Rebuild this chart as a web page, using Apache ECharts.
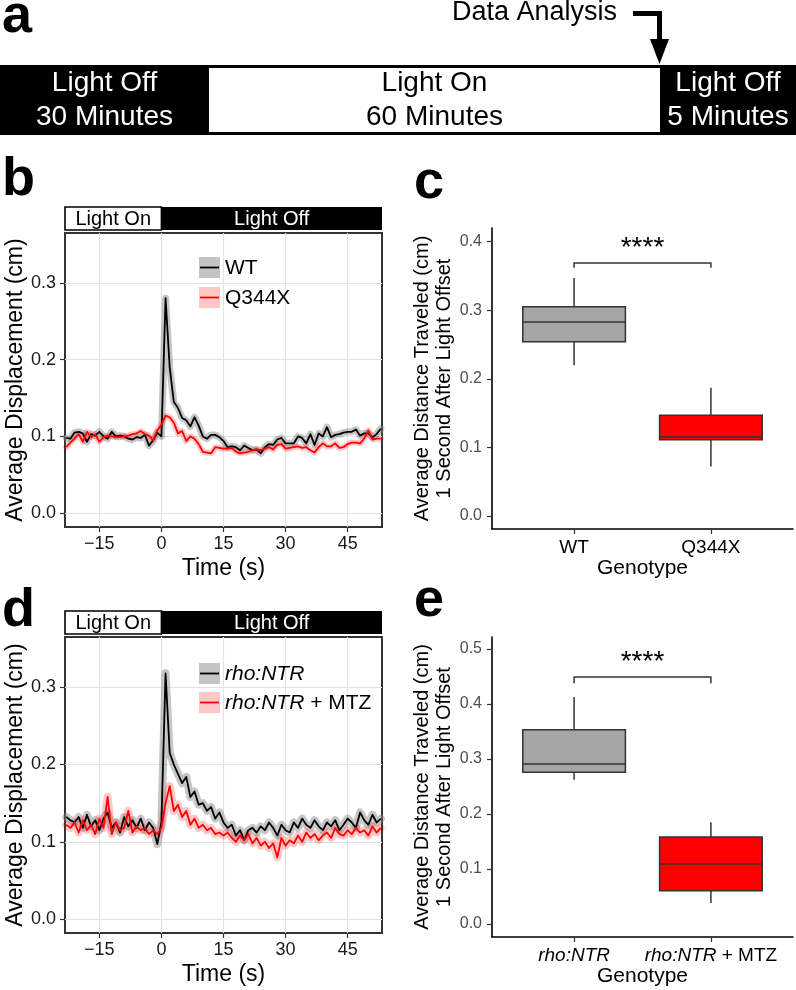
<!DOCTYPE html>
<html>
<head>
<meta charset="utf-8">
<title>Light offset startle response</title>
<script src="https://cdn.jsdelivr.net/npm/echarts@6/dist/echarts.min.js"></script>
<style>
  html, body { margin: 0; padding: 0; background: #fff; }
  #main { width: 796px; height: 990px; }
</style>
</head>
<body>
<div id="main"></div>
<script>
// ---- data ----
const timeSec = [-23, -22, -21, -20, -19, -18, -17, -16, -15, -14, -13, -12, -11, -10, -9, -8, -7, -6, -5, -4,
  -3, -2, -1, 0, 1, 2, 3, 4, 5, 6, 7, 8, 9, 10, 11, 12, 13, 14, 15, 16, 17, 18, 19, 20, 21, 22, 23, 24, 25, 26,
  27, 28, 29, 30, 31, 32, 33, 34, 35, 36, 37, 38, 39, 40, 41, 42, 43, 44, 45, 46, 47, 48, 49, 50, 51, 52, 53]

// panel b
const wtDisp = [0.098, 0.097, 0.105, 0.106, 0.104, 0.093, 0.103, 0.101, 0.106, 0.100,
  0.097, 0.106, 0.100, 0.101, 0.100, 0.097, 0.096, 0.099, 0.098, 0.102,
  0.088, 0.095, 0.105, 0.100, 0.280, 0.190, 0.145, 0.137, 0.124, 0.121,
  0.113, 0.125, 0.114, 0.100, 0.097, 0.102, 0.102, 0.099, 0.094, 0.086,
  0.087, 0.086, 0.082, 0.088, 0.085, 0.082, 0.083, 0.078, 0.086, 0.090,
  0.089, 0.096, 0.098, 0.091, 0.091, 0.091, 0.100, 0.098, 0.091, 0.103,
  0.089, 0.104, 0.100, 0.112, 0.099, 0.102, 0.103, 0.105, 0.106, 0.106,
  0.109, 0.101, 0.104, 0.104, 0.099, 0.103, 0.110]
const q344xDisp = [0.086, 0.092, 0.097, 0.103, 0.093, 0.106, 0.099, 0.103, 0.093, 0.099,
  0.101, 0.100, 0.099, 0.099, 0.100, 0.101, 0.103, 0.104, 0.107, 0.103,
  0.101, 0.095, 0.108, 0.115, 0.127, 0.125, 0.118, 0.104, 0.107, 0.094,
  0.100, 0.097, 0.090, 0.080, 0.079, 0.078, 0.086, 0.085, 0.084, 0.084,
  0.085, 0.080, 0.078, 0.079, 0.080, 0.082, 0.083, 0.082, 0.084, 0.086,
  0.083, 0.089, 0.090, 0.084, 0.085, 0.086, 0.087, 0.085, 0.086, 0.082,
  0.079, 0.086, 0.091, 0.087, 0.087, 0.091, 0.085, 0.086, 0.090, 0.092,
  0.092, 0.091, 0.097, 0.108, 0.096, 0.097, 0.097]

// panel d
const rhoDisp = [0.132, 0.128, 0.125, 0.132, 0.118, 0.135, 0.120, 0.128, 0.115, 0.130,
  0.138, 0.118, 0.125, 0.112, 0.132, 0.120, 0.128, 0.118, 0.130, 0.115,
  0.125, 0.118, 0.097, 0.125, 0.318, 0.215, 0.200, 0.188, 0.176, 0.184,
  0.158, 0.165, 0.148, 0.150, 0.140, 0.145, 0.130, 0.138, 0.125, 0.118,
  0.122, 0.108, 0.115, 0.102, 0.115, 0.118, 0.112, 0.120, 0.115, 0.125,
  0.118, 0.108, 0.122, 0.115, 0.112, 0.125, 0.118, 0.130, 0.122, 0.118,
  0.128, 0.120, 0.115, 0.125, 0.120, 0.128, 0.115, 0.122, 0.130, 0.125,
  0.118, 0.138, 0.128, 0.122, 0.135, 0.125, 0.130]
const rhoMtzDisp = [0.122, 0.118, 0.125, 0.112, 0.128, 0.115, 0.122, 0.110, 0.130, 0.118,
  0.158, 0.110, 0.125, 0.115, 0.118, 0.140, 0.112, 0.120, 0.115, 0.118,
  0.110, 0.115, 0.110, 0.118, 0.150, 0.172, 0.140, 0.148, 0.132, 0.140,
  0.122, 0.130, 0.118, 0.122, 0.115, 0.118, 0.110, 0.112, 0.108, 0.112,
  0.105, 0.100, 0.108, 0.102, 0.110, 0.098, 0.105, 0.095, 0.100, 0.092,
  0.098, 0.080, 0.105, 0.095, 0.102, 0.098, 0.108, 0.100, 0.112, 0.105,
  0.110, 0.102, 0.108, 0.112, 0.105, 0.118, 0.110, 0.108, 0.115, 0.110,
  0.118, 0.112, 0.115, 0.108, 0.120, 0.112, 0.118]

const timeTicks = [-15, 0, 15, 30, 45]
const dispTicks = [0, 0.1, 0.2, 0.3]
const lightChange = 0

// panels c and e: [lower whisker, Q1, median, Q3, upper whisker]
const genotypesC = ['WT', 'Q344X']
const boxStatsC = [[0.220, 0.254, 0.283, 0.305, 0.347], [0.072, 0.111, 0.115, 0.147, 0.187]]
const sigC = [0.362, 0.369]
const distTicksC = [0, 0.1, 0.2, 0.3, 0.4]

const genotypesE = ['{i|rho:NTR}', '{i|rho:NTR}{n| + MTZ}']
const boxStatsE = [[0.262, 0.276, 0.291, 0.353, 0.413], [0.038, 0.060, 0.109, 0.158, 0.185]]
const sigE = [0.438, 0.449]
const distTicksE = [0, 0.1, 0.2, 0.3, 0.4, 0.5]

const phaseNames = ['Light Off', 'Light On', 'Light Off']
const phaseDurations = ['30 Minutes', '60 Minutes', '5 Minutes']

// ---- layout / style ----
const FONT = "'Liberation Sans', Arial, sans-serif"
const GRID_B = { left: 65, top: 233, width: 317, height: 294 }
const GRID_C = { left: 492, top: 228, width: 301, height: 301 }
const GRID_D = { left: 65, top: 637, width: 317, height: 296 }
const GRID_E = { left: 492, top: 637, width: 301, height: 300 }
const phaseEdges = [0, 209, 660, 796]
const boxColors = ['#a6a6a6', '#ff0000']
const BOX_WIDTH = 0.75

let chart = echarts.init(document.getElementById('main'), null, { renderer: 'canvas' })

function pts (ys) {
  return timeSec.map(function (t, i) { return [t, ys[i]] })
}

function timeAxis (gridIndex) {
  return {
    gridIndex: gridIndex,
    type: 'value',
    min: -23.3,
    max: 53.3,
    axisLine: { show: false, onZero: false },
    axisTick: { show: true, customValues: timeTicks, length: 5, lineStyle: { color: '#333', width: 1.2 } },
    axisLabel: {
      customValues: timeTicks,
      formatter: function (v) { return String(v).replace('-', '\u2212') },
      color: '#1a1a1a',
      fontSize: 18,
      margin: 8
    },
    splitLine: { show: true, lineStyle: { color: '#e3e3e3', width: 1.2 } },
    name: 'Time (s)',
    nameLocation: 'middle',
    nameGap: 30,
    nameTextStyle: { fontSize: 23, color: '#000' }
  }
}

function dispAxis (gridIndex) {
  return {
    gridIndex: gridIndex,
    type: 'value',
    min: -0.018,
    max: 0.365,
    axisLine: { show: false, onZero: false },
    axisTick: { show: true, customValues: dispTicks, length: 5, lineStyle: { color: '#333', width: 1.2 } },
    axisLabel: {
      customValues: dispTicks,
      formatter: function (v) { return v.toFixed(1) },
      color: '#1a1a1a',
      fontSize: 18,
      margin: 9
    },
    splitLine: { show: true, lineStyle: { color: '#e3e3e3', width: 1.2 } },
    name: 'Average Displacement (cm)',
    nameLocation: 'middle',
    nameGap: 38,
    nameTextStyle: { fontSize: 23, color: '#000' }
  }
}

function genotypeAxis (gridIndex, labels) {
  return {
    gridIndex: gridIndex,
    type: 'value',
    min: 0.4,
    max: 2.6,
    axisLine: { show: true, onZero: false, lineStyle: { color: '#000', width: 1.6 } },
    axisTick: { show: true, customValues: [1, 2], length: 5, lineStyle: { color: '#333', width: 1.2 } },
    axisLabel: {
      customValues: [1, 2],
      formatter: function (v) { return labels[v - 1] },
      color: '#000',
      fontSize: 19,
      margin: 9,
      rich: {
        i: { fontStyle: 'italic', fontSize: 19, color: '#000', fontFamily: FONT },
        n: { fontSize: 19, color: '#000', fontFamily: FONT }
      }
    },
    splitLine: { show: false },
    name: 'Genotype',
    nameLocation: 'middle',
    nameGap: 28,
    nameTextStyle: { fontSize: 21, color: '#000' }
  }
}

function distAxis (gridIndex, ticks, min, max) {
  return {
    gridIndex: gridIndex,
    type: 'value',
    min: min,
    max: max,
    axisLine: { show: true, onZero: false, lineStyle: { color: '#000', width: 1.6 } },
    axisTick: { show: true, customValues: ticks, length: 5, lineStyle: { color: '#333', width: 1.2 } },
    axisLabel: {
      customValues: ticks,
      formatter: function (v) { return v.toFixed(1) },
      color: '#4d4d4d',
      fontSize: 16,
      margin: 10
    },
    splitLine: { show: false },
    name: 'Average Distance Traveled (cm)\n1 Second After Light Offset',
    nameLocation: 'middle',
    nameGap: 36,
    nameTextStyle: { fontSize: 20, color: '#000', lineHeight: 22 }
  }
}

// ribbon drawn as a wide translucent line under the mean line
function ribbon (idx, ys, color, width) {
  return {
    type: 'line', xAxisIndex: idx, yAxisIndex: idx, data: pts(ys),
    showSymbol: false, silent: true, z: 1,
    lineStyle: { color: color, width: width, join: 'round', cap: 'round' }
  }
}
function meanLine (idx, ys, color) {
  return {
    type: 'line', xAxisIndex: idx, yAxisIndex: idx, data: pts(ys),
    showSymbol: false, silent: true, z: 3,
    lineStyle: { color: color, width: 1.8, join: 'round' }
  }
}

function boxSeries (idx, stats) {
  return {
    type: 'custom', xAxisIndex: idx, yAxisIndex: idx, silent: true,
    data: stats.map(function (s, i) { return [i + 1].concat(s) }),
    renderItem: function (params, api) {
      let x = api.value(0)
      let w = api.size([BOX_WIDTH, 0])[0]
      let pHi = api.coord([x, api.value(5)])
      let pQ3 = api.coord([x, api.value(4)])
      let pMed = api.coord([x, api.value(3)])
      let pQ1 = api.coord([x, api.value(2)])
      let pLo = api.coord([x, api.value(1)])
      let edge = function () { return { stroke: '#333', lineWidth: 1.5 } }
      return {
        type: 'group',
        children: [
          { type: 'line', shape: { x1: pHi[0], y1: pHi[1], x2: pQ3[0], y2: pQ3[1] }, style: edge() },
          { type: 'line', shape: { x1: pQ1[0], y1: pQ1[1], x2: pLo[0], y2: pLo[1] }, style: edge() },
          {
            type: 'rect',
            shape: { x: pQ3[0] - w / 2, y: pQ3[1], width: w, height: pQ1[1] - pQ3[1] },
            style: { fill: boxColors[params.dataIndex], stroke: '#333', lineWidth: 1.5 }
          },
          { type: 'line', shape: { x1: pMed[0] - w / 2, y1: pMed[1], x2: pMed[0] + w / 2, y2: pMed[1] }, style: edge() }
        ]
      }
    }
  }
}

function sigSeries (idx, sig) {
  return {
    type: 'custom', xAxisIndex: idx, yAxisIndex: idx, silent: true,
    data: [[1, 2, sig[0], sig[1]]],
    renderItem: function (params, api) {
      let a = api.coord([api.value(0), api.value(2)])
      let b = api.coord([api.value(0), api.value(3)])
      let c = api.coord([api.value(1), api.value(3)])
      let d = api.coord([api.value(1), api.value(2)])
      return {
        type: 'group',
        children: [
          { type: 'polyline', shape: { points: [a, b, c, d] }, style: { stroke: '#333', lineWidth: 1.5, fill: null } },
          {
            type: 'text',
            style: { text: '****', x: (b[0] + c[0]) / 2, y: b[1] - 15, align: 'center', verticalAlign: 'middle', font: '28px ' + FONT, fill: '#000' }
          }
        ]
      }
    }
  }
}

let option = {
  animation: false,
  backgroundColor: '#fff',
  textStyle: { fontFamily: FONT },
  grid: [
    Object.assign({ show: true, borderColor: '#333', borderWidth: 2, backgroundColor: '#fff' }, GRID_B),
    Object.assign({ show: false }, GRID_C),
    Object.assign({ show: true, borderColor: '#333', borderWidth: 2, backgroundColor: '#fff' }, GRID_D),
    Object.assign({ show: false }, GRID_E)
  ],
  xAxis: [timeAxis(0), genotypeAxis(1, genotypesC), timeAxis(2), genotypeAxis(3, genotypesE)],
  yAxis: [dispAxis(0), distAxis(1, distTicksC, -0.019, 0.42), dispAxis(2), distAxis(3, distTicksE, -0.024, 0.522)],
  series: [
    ribbon(0, wtDisp, 'rgba(128,128,128,0.45)', 7),
    ribbon(0, q344xDisp, 'rgba(255,0,0,0.22)', 6),
    meanLine(0, wtDisp, '#000'),
    meanLine(0, q344xDisp, '#ff0000'),
    boxSeries(1, boxStatsC),
    sigSeries(1, sigC),
    ribbon(2, rhoDisp, 'rgba(128,128,128,0.45)', 8),
    ribbon(2, rhoMtzDisp, 'rgba(255,0,0,0.22)', 8),
    meanLine(2, rhoDisp, '#000'),
    meanLine(2, rhoMtzDisp, '#ff0000'),
    boxSeries(3, boxStatsE),
    sigSeries(3, sigE)
  ]
}
chart.setOption(option)

// ---- annotations: panel letters, protocol bar, strips, legends ----
function txt (x, y, text, size, opts) {
  return {
    type: 'text', x: x, y: y, silent: true, z: 10,
    style: Object.assign({ text: text, font: size + 'px ' + FONT, fill: '#000', align: 'left', verticalAlign: 'middle' }, opts || {})
  }
}

let g = []
// panel letters
g.push(txt(2, 17, 'a', 54, { font: 'bold 54px ' + FONT }))
g.push(txt(2, 180, 'b', 54, { font: 'bold 54px ' + FONT }))
g.push(txt(414, 183, 'c', 54, { font: 'bold 54px ' + FONT }))
g.push(txt(2, 611, 'd', 54, { font: 'bold 54px ' + FONT }))
g.push(txt(414, 601, 'e', 54, { font: 'bold 54px ' + FONT }))

// panel a: protocol bar
g.push({ type: 'rect', shape: { x: 0, y: 65, width: 796, height: 70 }, style: { fill: '#000' }, silent: true })
g.push({ type: 'rect', shape: { x: phaseEdges[1], y: 68, width: phaseEdges[2] - phaseEdges[1], height: 64 }, style: { fill: '#fff' }, silent: true })
for (let i = 0; i < phaseNames.length; i++) {
  let cx = (phaseEdges[i] + phaseEdges[i + 1]) / 2
  let col = i === 1 ? '#000' : '#fff'
  g.push(txt(cx, 83, phaseNames[i], 28, { align: 'center', fill: col }))
  g.push(txt(cx, 117.5, phaseDurations[i], 28, { align: 'center', fill: col }))
}
g.push(txt(617, 13, 'Data Analysis', 27, { align: 'right' }))
g.push({ type: 'rect', shape: { x: 633, y: 11, width: 29, height: 5 }, style: { fill: '#000' }, silent: true })
g.push({ type: 'rect', shape: { x: 657, y: 11, width: 5, height: 31 }, style: { fill: '#000' }, silent: true })
g.push({ type: 'polygon', shape: { points: [[650, 39], [669, 39], [659.5, 64]] }, style: { fill: '#000' }, silent: true })

// strips above time panels
function strip (grid, xAxisIndex) {
  let xs = chart.convertToPixel({ xAxisIndex: xAxisIndex }, lightChange)
  let top = grid.top - 26
  let right = grid.left + grid.width
  return [
    { type: 'rect', shape: { x: grid.left, y: top, width: xs - grid.left, height: 23 }, style: { fill: '#fff', stroke: '#000', lineWidth: 1.6 }, silent: true },
    { type: 'rect', shape: { x: xs, y: top, width: right - xs, height: 23 }, style: { fill: '#000' }, silent: true },
    txt((grid.left + xs) / 2, top + 12, 'Light On', 20, { align: 'center' }),
    txt((xs + right) / 2, top + 12, 'Light Off', 20, { align: 'center', fill: '#fff' })
  ]
}
g = g.concat(strip(GRID_B, 0), strip(GRID_D, 2))

// legends
function legendKey (x, y, fill, line) {
  return [
    { type: 'rect', shape: { x: x, y: y, width: 21, height: 21 }, style: { fill: fill }, silent: true, z: 10 },
    { type: 'line', shape: { x1: x + 1, y1: y + 10.5, x2: x + 20, y2: y + 10.5 }, style: { stroke: line, lineWidth: 1.8 }, silent: true, z: 11 }
  ]
}
g = g.concat(legendKey(199, 257, '#c4c4c4', '#000'), legendKey(199, 287, '#ffc7c7', '#ff0000'))
g.push(txt(225, 268, 'WT', 21))
g.push(txt(225, 298, 'Q344X', 21))
g = g.concat(legendKey(199, 663, '#c4c4c4', '#000'), legendKey(199, 692, '#ffc7c7', '#ff0000'))
let legRich = { i: { fontStyle: 'italic', fontSize: 21, fontFamily: FONT, fill: '#000' }, n: { fontSize: 21, fontFamily: FONT, fill: '#000' } }
g.push(txt(225, 674, '{i|rho:NTR}', 21, { rich: legRich }))
g.push(txt(225, 703, '{i|rho:NTR}{n| + MTZ}', 21, { rich: legRich }))

chart.setOption({ graphic: g })
</script>
</body>
</html>
